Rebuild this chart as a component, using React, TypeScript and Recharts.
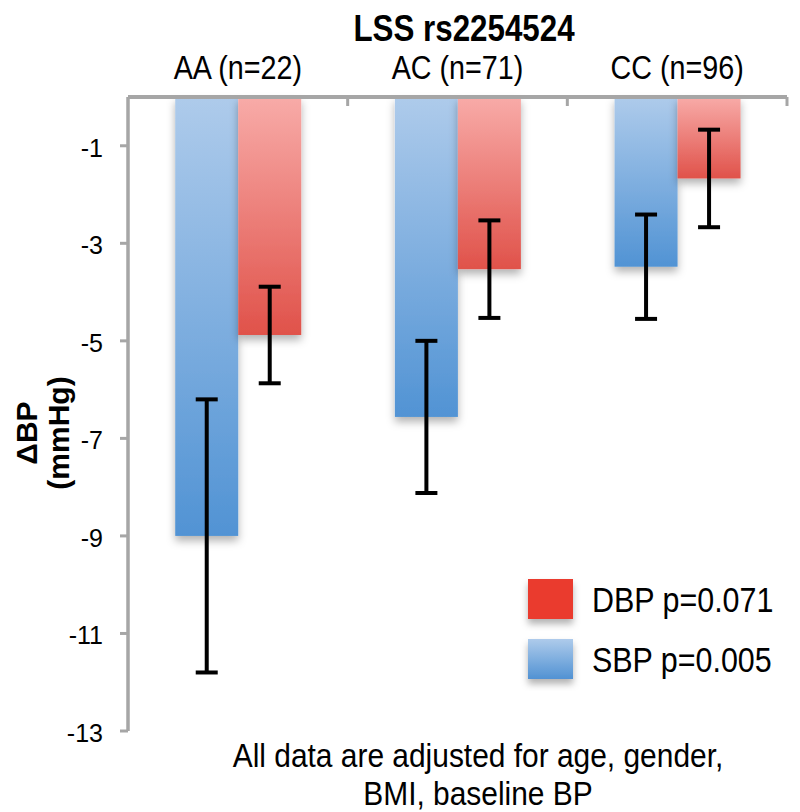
import { Bar, BarChart, ErrorBar, Legend, XAxis, YAxis } from 'recharts';

const categories = ['AA (n=22)', 'AC (n=71)', 'CC (n=96)'];
const sbpValues = [-9.0, -6.56, -3.48];
const sbpErrors = [2.8, 1.56, 1.07];
const dbpValues = [-4.88, -3.53, -1.67];
const dbpErrors = [0.99, 1.0, 1.0];
const yTicks = [-1, -3, -5, -7, -9, -11, -13];
const chartTitle = 'LSS rs2254524';
const yLabelLines = ['ΔBP', '(mmHg)'];
const noteLines = ['All data are adjusted for age, gender,', 'BMI, baseline BP'];
const sbpName = 'SBP p=0.005';
const dbpName = 'DBP p=0.071';

const data = categories.map((genotype, i) => ({
  genotype,
  sbp: sbpValues[i],
  sbpErr: sbpErrors[i],
  dbp: dbpValues[i],
  dbpErr: dbpErrors[i],
}));

const FONT = '"Liberation Sans", Arial, Helvetica, sans-serif';
const AXIS_GREY = '#a6a6a6';
// the source picture is squeezed horizontally, so most text is too
const SQUEEZE = 0.87;

const GenotypeTick = ({ x, y, payload }: any) => {
  const half = payload?.offset ?? 110;
  return (
    <g>
      <text
        transform={`translate(${x},${y - 18}) scale(${SQUEEZE},1)`}
        textAnchor='middle'
        fontSize={33}
        fontFamily={FONT}
        fill='#000'
      >
        {payload.value}
      </text>
      {/* category boundary tick, pointing down into the plot */}
      <line x1={x + half} x2={x + half} y1={y} y2={y + 9} stroke={AXIS_GREY} strokeWidth={3} />
    </g>
  );
};

const ValueTick = ({ x, y, payload }: any) => (
  <text x={x} y={y + 11} textAnchor='end' fontSize={25} fontFamily={FONT} fill='#000'>
    {payload.value}
  </text>
);

const ShadedBar = ({ x, y, width, height, fill }: any) => {
  const top = Math.min(y, y + height);
  return (
    <rect
      x={x}
      y={top}
      width={width}
      height={Math.abs(height)}
      fill={fill}
      filter='url(#barShadow)'
    />
  );
};

const LegendBox = ({ payload }: any) => {
  // DBP is listed above SBP
  const items = [...(payload ?? [])].sort((a: any, b: any) =>
    a.dataKey === 'dbp' ? -1 : b.dataKey === 'dbp' ? 1 : 0,
  );
  return (
    <svg width={270} height={120} style={{ overflow: 'visible' }}>
      <defs>
        <linearGradient id='legendBlue' x1='0' y1='0' x2='0' y2='1'>
          <stop offset='0%' stopColor='#aecbeb' />
          <stop offset='100%' stopColor='#5192d3' />
        </linearGradient>
        <filter id='legendShadow' x='-20%' y='-20%' width='140%' height='150%'>
          <feDropShadow dx='0' dy='5' stdDeviation='3.5' floodColor='#000' floodOpacity='0.3' />
        </filter>
      </defs>
      {items.map((item: any, i: number) => (
        <g key={item.value} transform={`translate(0,${i * 60})`}>
          <rect
            x={8}
            y={9}
            width={45}
            height={40}
            fill={item.dataKey === 'dbp' ? '#ea3a2d' : 'url(#legendBlue)'}
            filter='url(#legendShadow)'
          />
          <text
            transform={`translate(72,42) scale(${SQUEEZE},1)`}
            fontSize={35}
            fontFamily={FONT}
            fill='#000'
          >
            {item.value}
          </text>
        </g>
      ))}
    </svg>
  );
};

export default function App() {
  return (
    <div style={{ position: 'absolute', left: 0, top: 0, width: 800, height: 812, background: '#fff' }}>
      <BarChart
        width={800}
        height={812}
        data={data}
        margin={{ top: 57, right: 13, left: 68, bottom: 81 }}
        barCategoryGap='21.5%'
        barGap={0}
      >
        <defs>
          <linearGradient id='blueFill' x1='0' y1='0' x2='0' y2='1'>
            <stop offset='0%' stopColor='#aecbeb' />
            <stop offset='100%' stopColor='#5193d4' />
          </linearGradient>
          <linearGradient id='redFill' x1='0' y1='0' x2='0' y2='1'>
            <stop offset='0%' stopColor='#f8aba8' />
            <stop offset='100%' stopColor='#e0524a' />
          </linearGradient>
          <filter id='barShadow' x='-20%' y='-10%' width='140%' height='130%'>
            <feDropShadow dx='0' dy='5' stdDeviation='4' floodColor='#000' floodOpacity='0.3' />
          </filter>
        </defs>
        <XAxis
          dataKey='genotype'
          orientation='top'
          height={40}
          tickLine={false}
          tickSize={0}
          tickMargin={0}
          axisLine={{ stroke: AXIS_GREY, strokeWidth: 4 }}
          tick={<GenotypeTick />}
          interval={0}
        />
        <YAxis
          type='number'
          domain={[-13, 0]}
          ticks={yTicks}
          interval={0}
          width={60}
          tickSize={8}
          tickMargin={17}
          tickLine={{ stroke: AXIS_GREY, strokeWidth: 3 }}
          axisLine={{ stroke: AXIS_GREY, strokeWidth: 3.5 }}
          tick={<ValueTick />}
        />
        <Legend
          layout='vertical'
          align='center'
          verticalAlign='middle'
          content={<LegendBox />}
          wrapperStyle={{ position: 'absolute', left: 520, top: 570, width: 270, height: 120 }}
        />
        <Bar dataKey='sbp' name={sbpName} fill='url(#blueFill)' shape={<ShadedBar />} isAnimationActive={false}>
          <ErrorBar dataKey='sbpErr' width={11} strokeWidth={4} stroke='#000' direction='y' />
        </Bar>
        <Bar dataKey='dbp' name={dbpName} fill='url(#redFill)' shape={<ShadedBar />} isAnimationActive={false}>
          <ErrorBar dataKey='dbpErr' width={11} strokeWidth={4} stroke='#000' direction='y' />
        </Bar>
      </BarChart>
      <svg
        width={800}
        height={812}
        style={{ position: 'absolute', left: 0, top: 0, pointerEvents: 'none' }}
      >
        <text
          transform={`translate(464,41) scale(${SQUEEZE},1)`}
          textAnchor='middle'
          fontSize={36}
          fontWeight='bold'
          fontFamily={FONT}
          fill='#000'
        >
          {chartTitle}
        </text>
        <text transform='translate(37,433) rotate(-90)' textAnchor='middle' fontSize={30} fontWeight='bold' fontFamily={FONT}>
          {yLabelLines[0]}
        </text>
        <text transform='translate(69,433) rotate(-90)' textAnchor='middle' fontSize={30} fontWeight='bold' fontFamily={FONT}>
          {yLabelLines[1]}
        </text>
        {noteLines.map((line, i) => (
          <text
            key={line}
            transform={`translate(478,${767 + i * 38}) scale(0.88,1)`}
            textAnchor='middle'
            fontSize={34}
            fontFamily={FONT}
            fill='#000'
          >
            {line}
          </text>
        ))}
      </svg>
    </div>
  );
}
